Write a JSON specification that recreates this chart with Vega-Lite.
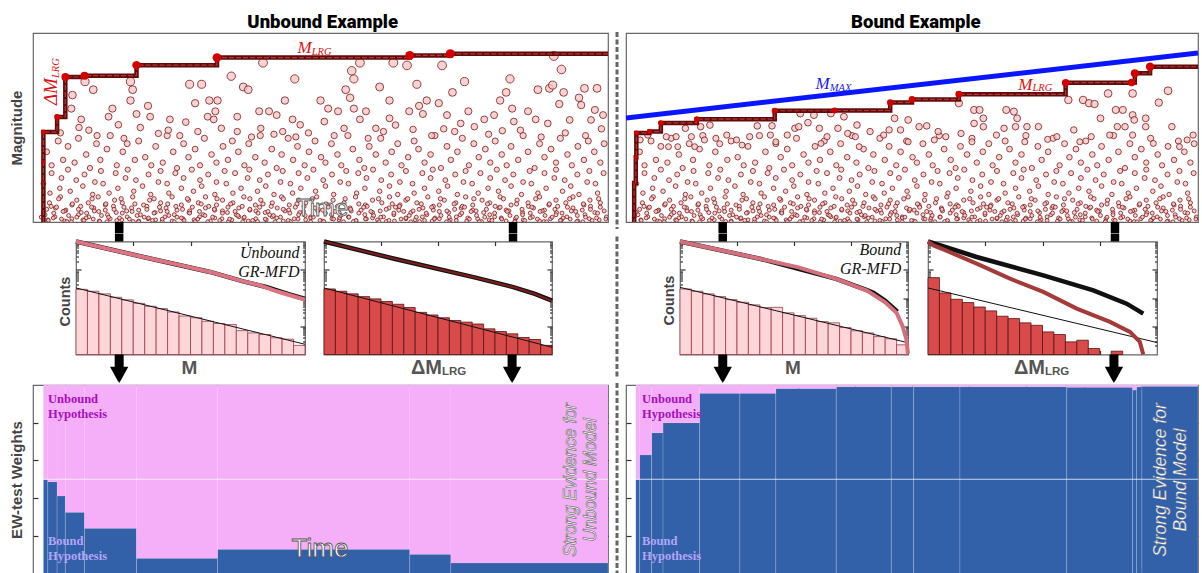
{
"$schema":"https://vega.github.io/schema/vega-lite/v6.json",
"autosize":"none",
"padding":{"left":33,"top":33,"right":1169,"bottom":540},
"background":"white",
"spacing":-2.5,
"config":{"view":{"stroke":"#666","strokeWidth":1.2},"axis":{"labels":false,"domain":false,"grid":false,"tickColor":"#333","tickWidth":1.2,"tickSize":-5}},
"datasets":{
"low":[{"t":2.5,"m":4.6},{"t":3.4,"m":4.1},{"t":4.6,"m":5.0},{"t":5.5,"m":4.3},{"t":6.4,"m":4.8},{"t":7.6,"m":4.2},{"t":8.3,"m":5.1},{"t":9.7,"m":4.5},{"t":10.4,"m":4.0},{"t":11.6,"m":4.9},{"t":12.3,"m":4.3},{"t":13.5,"m":4.7},{"t":14.1,"m":5.2},{"t":15.3,"m":4.1},{"t":16.4,"m":4.6},{"t":17.2,"m":4.9},{"t":18.6,"m":4.3},{"t":19.3,"m":5.0},{"t":20.5,"m":4.4},{"t":21.6,"m":4.1},{"t":22.4,"m":4.8},{"t":23.7,"m":4.2},{"t":24.5,"m":5.2},{"t":25.6,"m":4.6},{"t":26.3,"m":4.0},{"t":27.5,"m":4.9},{"t":28.4,"m":4.4},{"t":29.6,"m":4.7},{"t":30.5,"m":4.1},{"t":31.3,"m":5.1},{"t":32.6,"m":4.5},{"t":33.5,"m":4.2},{"t":34.7,"m":4.8},{"t":35.6,"m":4.3},{"t":36.4,"m":5.0},{"t":37.5,"m":4.6},{"t":38.6,"m":4.1},{"t":39.4,"m":4.9},{"t":40.6,"m":4.4},{"t":41.5,"m":5.2},{"t":42.3,"m":4.2},{"t":43.6,"m":4.7},{"t":44.5,"m":4.0},{"t":45.4,"m":4.5},{"t":46.6,"m":5.1},{"t":47.5,"m":4.3},{"t":48.3,"m":4.8},{"t":49.6,"m":4.1},{"t":50.4,"m":4.6},{"t":51.5,"m":5.0},{"t":52.6,"m":4.4},{"t":53.4,"m":4.2},{"t":54.5,"m":4.9},{"t":55.6,"m":4.5},{"t":56.3,"m":4.1},{"t":57.5,"m":5.2},{"t":58.4,"m":4.7},{"t":59.6,"m":4.3},{"t":60.5,"m":4.0},{"t":61.4,"m":4.8},{"t":62.6,"m":4.5},{"t":63.5,"m":5.1},{"t":64.4,"m":4.2},{"t":65.5,"m":4.6},{"t":66.6,"m":4.9},{"t":67.3,"m":4.1},{"t":68.5,"m":4.4},{"t":69.6,"m":5.0},{"t":70.4,"m":4.7},{"t":71.5,"m":4.2},{"t":72.6,"m":4.5},{"t":73.4,"m":5.2},{"t":74.5,"m":4.0},{"t":75.6,"m":4.8},{"t":76.3,"m":4.3},{"t":77.5,"m":4.6},{"t":78.4,"m":5.1},{"t":79.6,"m":4.1},{"t":80.5,"m":4.9},{"t":81.4,"m":4.4},{"t":82.6,"m":4.7},{"t":83.5,"m":4.2},{"t":84.4,"m":5.0},{"t":85.6,"m":4.5},{"t":86.5,"m":4.1},{"t":87.3,"m":4.8},{"t":88.6,"m":4.3},{"t":89.5,"m":5.2},{"t":90.4,"m":4.6},{"t":91.6,"m":4.0},{"t":92.5,"m":4.9},{"t":93.4,"m":4.4},{"t":94.6,"m":4.7},{"t":95.5,"m":4.2},{"t":96.3,"m":5.1},{"t":97.6,"m":4.5},{"t":98.4,"m":4.1},{"t":99.5,"m":4.8},{"t":100.6,"m":4.3},{"t":101.4,"m":5.0},{"t":102.5,"m":4.6},{"t":103.6,"m":4.2},{"t":104.3,"m":4.9},
{"t":1.9,"m":3.42},{"t":3.1,"m":3.07},{"t":3.4,"m":3.81},{"t":4.9,"m":3.25},{"t":5.2,"m":3.63},{"t":6.4,"m":3.94},{"t":6.8,"m":3.14},{"t":7.9,"m":3.55},{"t":9.1,"m":3.33},{"t":9.4,"m":3.76},{"t":10.9,"m":3.02},{"t":11.3,"m":3.48},{"t":12.4,"m":3.89},{"t":12.8,"m":3.42},{"t":13.9,"m":3.07},{"t":15.1,"m":3.81},{"t":15.5,"m":3.25},{"t":16.9,"m":3.63},{"t":17.3,"m":3.94},{"t":18.4,"m":3.14},{"t":18.8,"m":3.55},{"t":20.0,"m":3.33},{"t":21.1,"m":3.76},{"t":21.5,"m":3.02},{"t":22.9,"m":3.48},{"t":23.3,"m":3.89},{"t":24.5,"m":3.42},{"t":24.8,"m":3.07},{"t":26.0,"m":3.81},{"t":27.1,"m":3.25},{"t":27.5,"m":3.63},{"t":29.0,"m":3.94},{"t":29.3,"m":3.14},{"t":30.5,"m":3.55},{"t":30.8,"m":3.33},{"t":32.0,"m":3.76},{"t":33.2,"m":3.02},{"t":33.5,"m":3.48},{"t":35.0,"m":3.89},{"t":35.3,"m":3.42},{"t":36.5,"m":3.07},{"t":36.9,"m":3.81},{"t":38.0,"m":3.25},{"t":39.2,"m":3.63},{"t":39.5,"m":3.94},{"t":41.0,"m":3.14},{"t":41.4,"m":3.55},{"t":42.5,"m":3.33},{"t":42.9,"m":3.76},{"t":44.0,"m":3.02},{"t":45.2,"m":3.48},{"t":45.6,"m":3.89},{"t":47.0,"m":3.42},{"t":47.4,"m":3.07},{"t":48.5,"m":3.81},{"t":48.9,"m":3.25},{"t":50.1,"m":3.63},{"t":51.2,"m":3.94},{"t":51.6,"m":3.14},{"t":53.0,"m":3.55},{"t":53.4,"m":3.33},{"t":54.6,"m":3.76},{"t":54.9,"m":3.02},{"t":56.1,"m":3.48},{"t":57.2,"m":3.89},{"t":57.6,"m":3.42},{"t":59.1,"m":3.07},{"t":59.4,"m":3.81},{"t":60.6,"m":3.25},{"t":60.9,"m":3.63},{"t":62.1,"m":3.94},{"t":63.3,"m":3.14},{"t":63.6,"m":3.55},{"t":65.1,"m":3.33},{"t":65.4,"m":3.76},{"t":66.6,"m":3.02},{"t":67.0,"m":3.48},{"t":68.1,"m":3.89},{"t":69.3,"m":3.42},{"t":69.6,"m":3.07},{"t":71.1,"m":3.81},{"t":71.5,"m":3.25},{"t":72.6,"m":3.63},{"t":73.0,"m":3.94},{"t":74.1,"m":3.14},{"t":75.3,"m":3.55},{"t":75.7,"m":3.33},{"t":77.1,"m":3.76},{"t":77.5,"m":3.02},{"t":78.6,"m":3.48},{"t":79.0,"m":3.89},{"t":80.2,"m":3.42},{"t":81.3,"m":3.07},{"t":81.7,"m":3.81},{"t":83.1,"m":3.25},{"t":83.5,"m":3.63},{"t":84.7,"m":3.94},{"t":85.0,"m":3.14},{"t":86.2,"m":3.55},{"t":87.3,"m":3.33},{"t":87.7,"m":3.76},{"t":89.2,"m":3.02},{"t":89.5,"m":3.48},{"t":90.7,"m":3.89},{"t":91.0,"m":3.42},{"t":92.2,"m":3.07},{"t":93.4,"m":3.81},{"t":93.7,"m":3.25},{"t":95.2,"m":3.63},{"t":95.5,"m":3.94},{"t":96.7,"m":3.14},{"t":97.1,"m":3.55},{"t":98.2,"m":3.33},{"t":99.4,"m":3.76},{"t":99.7,"m":3.02},{"t":101.2,"m":3.48},{"t":101.6,"m":3.89},{"t":102.7,"m":3.42},{"t":103.1,"m":3.07},{"t":104.2,"m":3.81},
{"t":1.9,"m":2.35},{"t":2.7,"m":2.08},{"t":3.0,"m":2.71},{"t":4.0,"m":2.19},{"t":4.1,"m":2.52},{"t":5.0,"m":2.93},{"t":5.8,"m":2.04},{"t":6.0,"m":2.44},{"t":7.1,"m":2.63},{"t":7.1,"m":2.12},{"t":8.0,"m":2.81},{"t":8.8,"m":2.35},{"t":9.1,"m":2.08},{"t":10.1,"m":2.71},{"t":10.2,"m":2.19},{"t":11.1,"m":2.52},{"t":11.9,"m":2.93},{"t":12.1,"m":2.04},{"t":13.2,"m":2.44},{"t":13.2,"m":2.63},{"t":14.1,"m":2.12},{"t":14.9,"m":2.81},{"t":15.2,"m":2.35},{"t":16.2,"m":2.08},{"t":16.3,"m":2.71},{"t":17.2,"m":2.19},{"t":18.0,"m":2.52},{"t":18.2,"m":2.93},{"t":19.3,"m":2.04},{"t":19.3,"m":2.44},{"t":20.2,"m":2.63},{"t":21.0,"m":2.12},{"t":21.3,"m":2.81},{"t":22.3,"m":2.35},{"t":22.4,"m":2.08},{"t":23.3,"m":2.71},{"t":24.1,"m":2.19},{"t":24.3,"m":2.52},{"t":25.4,"m":2.93},{"t":25.4,"m":2.04},{"t":26.3,"m":2.44},{"t":27.1,"m":2.63},{"t":27.4,"m":2.12},{"t":28.4,"m":2.81},{"t":28.5,"m":2.35},{"t":29.4,"m":2.08},{"t":30.2,"m":2.71},{"t":30.4,"m":2.19},{"t":31.5,"m":2.52},{"t":31.5,"m":2.93},{"t":32.4,"m":2.04},{"t":33.2,"m":2.44},{"t":33.5,"m":2.63},{"t":34.5,"m":2.12},{"t":34.6,"m":2.81},{"t":35.5,"m":2.35},{"t":36.3,"m":2.08},{"t":36.5,"m":2.71},{"t":37.6,"m":2.19},{"t":37.6,"m":2.52},{"t":38.5,"m":2.93},{"t":39.3,"m":2.04},{"t":39.6,"m":2.44},{"t":40.6,"m":2.63},{"t":40.7,"m":2.12},{"t":41.6,"m":2.81},{"t":42.4,"m":2.35},{"t":42.6,"m":2.08},{"t":43.7,"m":2.71},{"t":43.7,"m":2.19},{"t":44.6,"m":2.52},{"t":45.4,"m":2.93},{"t":45.7,"m":2.04},{"t":46.7,"m":2.44},{"t":46.8,"m":2.63},{"t":47.7,"m":2.12},{"t":48.5,"m":2.81},{"t":48.7,"m":2.35},{"t":49.8,"m":2.08},{"t":49.8,"m":2.71},{"t":50.7,"m":2.19},{"t":51.5,"m":2.52},{"t":51.8,"m":2.93},{"t":52.8,"m":2.04},{"t":52.9,"m":2.44},{"t":53.8,"m":2.63},{"t":54.6,"m":2.12},{"t":54.8,"m":2.81},{"t":55.9,"m":2.35},{"t":55.9,"m":2.08},{"t":56.8,"m":2.71},{"t":57.6,"m":2.19},{"t":57.9,"m":2.52},{"t":58.9,"m":2.93},{"t":59.0,"m":2.04},{"t":59.9,"m":2.44},{"t":60.7,"m":2.63},{"t":60.9,"m":2.12},{"t":62.0,"m":2.81},{"t":62.0,"m":2.35},{"t":62.9,"m":2.08},{"t":63.7,"m":2.71},{"t":64.0,"m":2.19},{"t":65.0,"m":2.52},{"t":65.1,"m":2.93},{"t":66.0,"m":2.04},{"t":66.8,"m":2.44},{"t":67.0,"m":2.63},{"t":68.1,"m":2.12},{"t":68.1,"m":2.81},{"t":69.0,"m":2.35},{"t":69.8,"m":2.08},{"t":70.1,"m":2.71},{"t":71.1,"m":2.19},{"t":71.2,"m":2.52},{"t":72.1,"m":2.93},{"t":72.9,"m":2.04},{"t":73.1,"m":2.44},{"t":74.2,"m":2.63},{"t":74.2,"m":2.12},{"t":75.1,"m":2.81},{"t":75.9,"m":2.35},{"t":76.2,"m":2.08},{"t":77.2,"m":2.71},{"t":77.3,"m":2.19},{"t":78.2,"m":2.52},{"t":79.0,"m":2.93},{"t":79.2,"m":2.04},{"t":80.3,"m":2.44},{"t":80.3,"m":2.63},{"t":81.2,"m":2.12},{"t":82.0,"m":2.81},{"t":82.3,"m":2.35},{"t":83.3,"m":2.08},{"t":83.4,"m":2.71},{"t":84.3,"m":2.19},{"t":85.1,"m":2.52},{"t":85.3,"m":2.93},{"t":86.4,"m":2.04},{"t":86.4,"m":2.44},{"t":87.3,"m":2.63},{"t":88.1,"m":2.12},{"t":88.4,"m":2.81},{"t":89.4,"m":2.35},{"t":89.5,"m":2.08},{"t":90.4,"m":2.71},{"t":91.2,"m":2.19},{"t":91.4,"m":2.52},{"t":92.5,"m":2.93},{"t":92.5,"m":2.04},{"t":93.4,"m":2.44},{"t":94.2,"m":2.63},{"t":94.5,"m":2.12},{"t":95.5,"m":2.81},{"t":95.6,"m":2.35},{"t":96.5,"m":2.08},{"t":97.3,"m":2.71},{"t":97.5,"m":2.19},{"t":98.6,"m":2.52},{"t":98.6,"m":2.93},{"t":99.5,"m":2.04},{"t":100.3,"m":2.44},{"t":100.6,"m":2.63},{"t":101.6,"m":2.12},{"t":101.7,"m":2.81},{"t":102.6,"m":2.35},{"t":103.4,"m":2.08},{"t":103.6,"m":2.71},{"t":104.7,"m":2.19},
{"t":2.2,"m":2.27},{"t":3.3,"m":2.58},{"t":3.7,"m":2.15},{"t":4.7,"m":2.86},{"t":5.8,"m":2.41},{"t":6.2,"m":2.02},{"t":7.2,"m":2.67},{"t":8.3,"m":2.27},{"t":8.7,"m":2.58},{"t":9.7,"m":2.15},{"t":10.8,"m":2.86},{"t":11.2,"m":2.41},{"t":12.2,"m":2.02},{"t":13.3,"m":2.67},{"t":13.6,"m":2.27},{"t":14.7,"m":2.58},{"t":15.8,"m":2.15},{"t":16.1,"m":2.86},{"t":17.1,"m":2.41},{"t":18.3,"m":2.02},{"t":18.6,"m":2.67},{"t":19.6,"m":2.27},{"t":20.8,"m":2.58},{"t":21.1,"m":2.15},{"t":22.1,"m":2.86},{"t":23.3,"m":2.41},{"t":23.6,"m":2.02},{"t":24.6,"m":2.67},{"t":25.8,"m":2.27},{"t":26.1,"m":2.58},{"t":27.1,"m":2.15},{"t":28.2,"m":2.86},{"t":28.6,"m":2.41},{"t":29.6,"m":2.02},{"t":30.7,"m":2.67},{"t":31.1,"m":2.27},{"t":32.1,"m":2.58},{"t":33.2,"m":2.15},{"t":33.6,"m":2.86},{"t":34.6,"m":2.41},{"t":35.7,"m":2.02},{"t":36.1,"m":2.67},{"t":37.1,"m":2.27},{"t":38.2,"m":2.58},{"t":38.5,"m":2.15},{"t":39.6,"m":2.86},{"t":40.7,"m":2.41},{"t":41.0,"m":2.02},{"t":42.0,"m":2.67},{"t":43.2,"m":2.27},{"t":43.5,"m":2.58},{"t":44.5,"m":2.15},{"t":45.7,"m":2.86},{"t":46.0,"m":2.41},{"t":47.0,"m":2.02},{"t":48.2,"m":2.67},{"t":48.5,"m":2.27},{"t":49.5,"m":2.58},{"t":50.7,"m":2.15},{"t":51.0,"m":2.86},{"t":52.0,"m":2.41},{"t":53.1,"m":2.02},{"t":53.5,"m":2.67},{"t":54.5,"m":2.27},{"t":55.6,"m":2.58},{"t":56.0,"m":2.15},{"t":57.0,"m":2.86},{"t":58.1,"m":2.41},{"t":58.5,"m":2.02},{"t":59.5,"m":2.67},{"t":60.6,"m":2.27},{"t":61.0,"m":2.58},{"t":62.0,"m":2.15},{"t":63.1,"m":2.86},{"t":63.4,"m":2.41},{"t":64.5,"m":2.02},{"t":65.6,"m":2.67},{"t":65.9,"m":2.27},{"t":66.9,"m":2.58},{"t":68.1,"m":2.15},{"t":68.4,"m":2.86},{"t":69.4,"m":2.41},{"t":70.6,"m":2.02},{"t":70.9,"m":2.67},{"t":71.9,"m":2.27},{"t":73.1,"m":2.58},{"t":73.4,"m":2.15},{"t":74.4,"m":2.86},{"t":75.6,"m":2.41},{"t":75.9,"m":2.02},{"t":76.9,"m":2.67},{"t":78.0,"m":2.27},{"t":78.4,"m":2.58},{"t":79.4,"m":2.15},{"t":80.5,"m":2.86},{"t":80.9,"m":2.41},{"t":81.9,"m":2.02},{"t":83.0,"m":2.67},{"t":83.4,"m":2.27},{"t":84.4,"m":2.58},{"t":85.5,"m":2.15},{"t":85.9,"m":2.86},{"t":86.9,"m":2.41},{"t":88.0,"m":2.02},{"t":88.3,"m":2.67},{"t":89.4,"m":2.27},{"t":90.5,"m":2.58},{"t":90.8,"m":2.15},{"t":91.8,"m":2.86},{"t":93.0,"m":2.41},{"t":93.3,"m":2.02},{"t":94.3,"m":2.67},{"t":95.5,"m":2.27},{"t":95.8,"m":2.58},{"t":96.8,"m":2.15},{"t":98.0,"m":2.86},{"t":98.3,"m":2.41},{"t":99.3,"m":2.02},{"t":100.5,"m":2.67},{"t":100.8,"m":2.27},{"t":101.8,"m":2.58},{"t":102.9,"m":2.15},{"t":103.3,"m":2.86},{"t":104.3,"m":2.41},
{"t":1.5,"m":2.18},{"t":2.5,"m":2.47},{"t":2.8,"m":2.06},{"t":3.8,"m":2.33},{"t":4.3,"m":2.55},{"t":5.2,"m":2.11},{"t":5.5,"m":2.39},{"t":6.5,"m":2.24},{"t":7.0,"m":2.01},{"t":8.0,"m":2.18},{"t":8.3,"m":2.47},{"t":9.3,"m":2.06},{"t":9.8,"m":2.33},{"t":10.7,"m":2.55},{"t":11.0,"m":2.11},{"t":12.0,"m":2.39},{"t":12.5,"m":2.24},{"t":13.5,"m":2.01},{"t":13.8,"m":2.18},{"t":14.8,"m":2.47},{"t":15.3,"m":2.06},{"t":16.3,"m":2.33},{"t":16.6,"m":2.55},{"t":17.6,"m":2.11},{"t":18.1,"m":2.39},{"t":19.0,"m":2.24},{"t":19.3,"m":2.01},{"t":20.3,"m":2.18},{"t":20.8,"m":2.47},{"t":21.8,"m":2.06},{"t":22.1,"m":2.33},{"t":23.1,"m":2.55},{"t":23.6,"m":2.11},{"t":24.5,"m":2.39},{"t":24.8,"m":2.24},{"t":25.8,"m":2.01},{"t":26.3,"m":2.18},{"t":27.3,"m":2.47},{"t":27.6,"m":2.06},{"t":28.6,"m":2.33},{"t":29.1,"m":2.55},{"t":30.1,"m":2.11},{"t":30.4,"m":2.39},{"t":31.4,"m":2.24},{"t":31.9,"m":2.01},{"t":32.8,"m":2.18},{"t":33.1,"m":2.47},{"t":34.1,"m":2.06},{"t":34.6,"m":2.33},{"t":35.6,"m":2.55},{"t":35.9,"m":2.11},{"t":36.9,"m":2.39},{"t":37.4,"m":2.24},{"t":38.3,"m":2.01},{"t":38.6,"m":2.18},{"t":39.6,"m":2.47},{"t":40.1,"m":2.06},{"t":41.1,"m":2.33},{"t":41.4,"m":2.55},{"t":42.4,"m":2.11},{"t":42.9,"m":2.39},{"t":43.9,"m":2.24},{"t":44.2,"m":2.01},{"t":45.2,"m":2.18},{"t":45.7,"m":2.47},{"t":46.6,"m":2.06},{"t":46.9,"m":2.33},{"t":47.9,"m":2.55},{"t":48.4,"m":2.11},{"t":49.4,"m":2.39},{"t":49.7,"m":2.24},{"t":50.7,"m":2.01},{"t":51.2,"m":2.18},{"t":52.1,"m":2.47},{"t":52.4,"m":2.06},{"t":53.4,"m":2.33},{"t":53.9,"m":2.55},{"t":54.9,"m":2.11},{"t":55.2,"m":2.39},{"t":56.2,"m":2.24},{"t":56.7,"m":2.01},{"t":57.7,"m":2.18},{"t":58.0,"m":2.47},{"t":59.0,"m":2.06},{"t":59.5,"m":2.33},{"t":60.4,"m":2.55},{"t":60.7,"m":2.11},{"t":61.7,"m":2.39},{"t":62.2,"m":2.24},{"t":63.2,"m":2.01},{"t":63.5,"m":2.18},{"t":64.5,"m":2.47},{"t":65.0,"m":2.06},{"t":65.9,"m":2.33},{"t":66.2,"m":2.55},{"t":67.2,"m":2.11},{"t":67.7,"m":2.39},{"t":68.7,"m":2.24},{"t":69.0,"m":2.01},{"t":70.0,"m":2.18},{"t":70.5,"m":2.47},{"t":71.5,"m":2.06},{"t":71.8,"m":2.33},{"t":72.8,"m":2.55},{"t":73.3,"m":2.11},{"t":74.2,"m":2.39},{"t":74.5,"m":2.24},{"t":75.5,"m":2.01},{"t":76.0,"m":2.18},{"t":77.0,"m":2.47},{"t":77.3,"m":2.06},{"t":78.3,"m":2.33},{"t":78.8,"m":2.55},{"t":79.7,"m":2.11},{"t":80.0,"m":2.39},{"t":81.0,"m":2.24},{"t":81.5,"m":2.01},{"t":82.5,"m":2.18},{"t":82.8,"m":2.47},{"t":83.8,"m":2.06},{"t":84.3,"m":2.33},{"t":85.3,"m":2.55},{"t":85.6,"m":2.11},{"t":86.6,"m":2.39},{"t":87.1,"m":2.24},{"t":88.0,"m":2.01},{"t":88.3,"m":2.18},{"t":89.3,"m":2.47},{"t":89.8,"m":2.06},{"t":90.8,"m":2.33},{"t":91.1,"m":2.55},{"t":92.1,"m":2.11},{"t":92.6,"m":2.39},{"t":93.5,"m":2.24},{"t":93.8,"m":2.01},{"t":94.8,"m":2.18},{"t":95.3,"m":2.47},{"t":96.3,"m":2.06},{"t":96.6,"m":2.33},{"t":97.6,"m":2.55},{"t":98.1,"m":2.11},{"t":99.1,"m":2.39},{"t":99.4,"m":2.24},{"t":100.4,"m":2.01},{"t":100.9,"m":2.18},{"t":101.8,"m":2.47},{"t":102.1,"m":2.06},{"t":103.1,"m":2.33},{"t":103.6,"m":2.55},{"t":104.6,"m":2.11}],
"hiL":[{"t":9.5,"m":7.2},{"t":11.0,"m":6.9},{"t":7.2,"m":6.7},{"t":7.0,"m":6.2},{"t":8.8,"m":5.8},{"t":8.4,"m":5.5},{"t":11.7,"m":5.2},{"t":14.5,"m":6.2},{"t":15.6,"m":5.6},{"t":17.8,"m":7.2},{"t":18.2,"m":6.9},{"t":17.8,"m":6.5},{"t":18.9,"m":6.0},{"t":21.0,"m":6.3},{"t":21.4,"m":5.9},{"t":19.6,"m":5.5},{"t":25.0,"m":5.8},{"t":24.7,"m":5.4},{"t":28.6,"m":7.1},{"t":30.8,"m":7.1},{"t":29.6,"m":6.4},{"t":32.2,"m":6.5},{"t":33.7,"m":6.5},{"t":33.3,"m":6.1},{"t":31.9,"m":5.9},{"t":33.0,"m":5.8},{"t":27.9,"m":5.7},{"t":36.2,"m":7.4},{"t":38.4,"m":7.0},{"t":39.3,"m":6.9},{"t":41.3,"m":6.1},{"t":43.1,"m":6.1},{"t":37.3,"m":5.9},{"t":42.0,"m":7.9},{"t":47.8,"m":7.3},{"t":46.0,"m":6.5},{"t":44.5,"m":5.96},{"t":47.4,"m":5.8},{"t":48.8,"m":5.6},{"t":52.5,"m":6.5},{"t":53.9,"m":6.2},{"t":55.7,"m":6.1},{"t":57.1,"m":6.9},{"t":57.9,"m":6.6},{"t":58.6,"m":7.3},{"t":58.2,"m":7.6},{"t":59.7,"m":7.9},{"t":58.6,"m":6.2},{"t":59.7,"m":5.8},{"t":60.8,"m":6.1},{"t":63.3,"m":7.0},{"t":65.1,"m":6.5},{"t":65.8,"m":7.9},{"t":68.3,"m":7.8},{"t":70.1,"m":7.1},{"t":70.5,"m":6.3},{"t":68.7,"m":6.1},{"t":71.2,"m":6.0},{"t":71.9,"m":6.5},{"t":74.1,"m":6.4},{"t":74.7,"m":7.8},{"t":76.6,"m":6.8},{"t":75.6,"m":5.96},{"t":78.8,"m":7.2},{"t":79.5,"m":6.1},{"t":82.4,"m":5.8},{"t":84.2,"m":5.96},{"t":85.3,"m":6.5},{"t":86.4,"m":6.8},{"t":87.1,"m":7.3},{"t":87.5,"m":6.2},{"t":90.4,"m":6.1},{"t":92.2,"m":6.9},{"t":91.8,"m":5.8},{"t":94.3,"m":6.95},{"t":95.1,"m":8.15},{"t":94.9,"m":7.07},{"t":96.5,"m":7.65},{"t":96.9,"m":6.8},{"t":96.1,"m":6.37},{"t":99.7,"m":6.6},{"t":100.7,"m":6.95},{"t":100.1,"m":6.33},{"t":103.0,"m":6.95},{"t":102.6,"m":6.15},{"t":104.1,"m":5.96},{"t":101.9,"m":5.78},{"t":98.0,"m":5.78},{"t":94.0,"m":5.65},{"t":87.8,"m":5.72},{"t":80.6,"m":5.53},{"t":78.1,"m":5.65},{"t":66.2,"m":5.59},{"t":65.1,"m":5.84},{"t":62.6,"m":5.47},{"t":53.2,"m":5.72},{"t":56.8,"m":5.47},{"t":41.6,"m":5.47},{"t":37.3,"m":5.35},{"t":22.9,"m":5.28},{"t":13.8,"m":5.9},{"t":34.4,"m":5.47},{"t":45.6,"m":5.35},{"t":69.4,"m":5.43},{"t":85.7,"m":5.38},{"t":77.0,"m":5.35},{"t":5.0,"m":5.3},{"t":10.2,"m":5.4},{"t":16.6,"m":5.1},{"t":26.8,"m":5.2},{"t":30.1,"m":5.35},{"t":39.9,"m":5.15},{"t":44.0,"m":5.25},{"t":50.3,"m":5.3},{"t":55.0,"m":5.2},{"t":61.2,"m":5.1},{"t":64.0,"m":5.35},{"t":72.8,"m":5.2},{"t":75.0,"m":5.45},{"t":83.2,"m":5.25},{"t":89.0,"m":5.4},{"t":92.8,"m":5.15},{"t":97.2,"m":5.3},{"t":100.9,"m":5.2},{"t":103.8,"m":5.45},{"t":48.0,"m":5.15}],
"hiR":[{"t":2.6,"m":5.04},{"t":4.0,"m":5.22},{"t":7.4,"m":5.16},{"t":7.8,"m":4.79},{"t":9.2,"m":5.16},{"t":9.5,"m":4.79},{"t":10.9,"m":5.47},{"t":12.0,"m":5.16},{"t":13.7,"m":5.53},{"t":15.4,"m":5.59},{"t":14.4,"m":5.04},{"t":16.5,"m":5.1},{"t":18.5,"m":5.22},{"t":20.3,"m":5.04},{"t":22.7,"m":5.16},{"t":24.1,"m":5.56},{"t":26.8,"m":5.56},{"t":26.5,"m":5.22},{"t":29.6,"m":5.22},{"t":31.0,"m":5.47},{"t":31.7,"m":5.53},{"t":32.0,"m":6.02},{"t":33.4,"m":5.68},{"t":34.5,"m":5.96},{"t":35.5,"m":5.47},{"t":36.9,"m":5.16},{"t":37.6,"m":6.02},{"t":38.9,"m":5.47},{"t":40.0,"m":5.9},{"t":40.7,"m":5.28},{"t":42.4,"m":5.59},{"t":42.1,"m":5.16},{"t":44.8,"m":5.35},{"t":47.3,"m":5.22},{"t":48.3,"m":5.41},{"t":50.4,"m":5.41},{"t":49.3,"m":5.84},{"t":51.8,"m":5.78},{"t":53.8,"m":5.53},{"t":55.2,"m":5.56},{"t":57.3,"m":5.35},{"t":58.7,"m":5.16},{"t":61.1,"m":6.4},{"t":61.5,"m":5.28},{"t":63.9,"m":6.15},{"t":64.9,"m":6.15},{"t":63.9,"m":5.65},{"t":65.6,"m":5.84},{"t":65.6,"m":5.53},{"t":69.4,"m":5.47},{"t":69.8,"m":6.15},{"t":71.2,"m":6.09},{"t":71.8,"m":5.84},{"t":71.5,"m":5.53},{"t":73.6,"m":5.53},{"t":75.7,"m":5.53},{"t":68.0,"m":5.22},{"t":79.1,"m":5.16},{"t":81.2,"m":6.52},{"t":82.2,"m":5.41},{"t":83.9,"m":6.52},{"t":85.0,"m":6.4},{"t":86.0,"m":6.37},{"t":85.4,"m":5.16},{"t":87.1,"m":5.84},{"t":88.5,"m":6.76},{"t":89.9,"m":6.15},{"t":91.2,"m":6.15},{"t":90.2,"m":5.53},{"t":91.6,"m":5.53},{"t":93.0,"m":6.76},{"t":93.0,"m":5.96},{"t":93.3,"m":5.78},{"t":93.0,"m":5.22},{"t":95.4,"m":5.84},{"t":95.4,"m":5.53},{"t":97.8,"m":6.42},{"t":99.5,"m":6.86},{"t":100.2,"m":5.53},{"t":103.0,"m":5.04},{"t":104.1,"m":5.22},{"t":101.6,"m":4.79},{"t":96.8,"m":4.91},{"t":88.8,"m":5.22},{"t":83.3,"m":4.97},{"t":77.4,"m":5.06},{"t":73.2,"m":4.97},{"t":63.5,"m":4.97},{"t":56.6,"m":5.04},{"t":51.8,"m":4.97},{"t":42.8,"m":4.79},{"t":35.8,"m":4.91},{"t":27.5,"m":4.97},{"t":21.3,"m":4.85},{"t":12.6,"m":4.79}],
"lrgL":[{"t":1.9,"m":2},{"t":1.9,"m":5.33},{"t":4.4,"m":5.89},{"t":5.9,"m":7.37},{"t":9.4,"m":7.42},{"t":18.9,"m":7.81},{"t":33.6,"m":8.09},{"t":68.8,"m":8.17},{"t":76.2,"m":8.23},{"t":105,"m":8.23}],
"recL":[{"t":1.9,"m":3.49},{"t":1.9,"m":4.23},{"t":1.9,"m":5.33},{"t":4.4,"m":5.89},{"t":5.9,"m":7.37},{"t":9.4,"m":7.42},{"t":18.9,"m":7.81},{"t":33.6,"m":8.09},{"t":68.8,"m":8.17},{"t":76.2,"m":8.23}],
"lrgR":[{"t":1.2,"m":2},{"t":1.5,"m":3.44},{"t":1.8,"m":4.4},{"t":1.9,"m":5.3},{"t":4.3,"m":5.35},{"t":6.4,"m":5.67},{"t":13.0,"m":5.81},{"t":27.3,"m":6.12},{"t":38.3,"m":6.13},{"t":48.5,"m":6.43},{"t":52.5,"m":6.54},{"t":61.1,"m":6.73},{"t":80.7,"m":7.16},{"t":92.8,"m":7.17},{"t":93.4,"m":7.51},{"t":96.2,"m":7.75},{"t":105,"m":7.75}],
"recR":[{"t":1.5,"m":3.44},{"t":1.8,"m":4.4},{"t":1.9,"m":5.3},{"t":4.3,"m":5.35},{"t":6.4,"m":5.67},{"t":13.0,"m":5.81},{"t":27.3,"m":6.12},{"t":38.3,"m":6.13},{"t":48.5,"m":6.43},{"t":52.5,"m":6.54},{"t":61.1,"m":6.73},{"t":80.7,"m":7.16},{"t":92.8,"m":7.17},{"t":93.4,"m":7.51},{"t":96.2,"m":7.75}],
"ewL":[{"t0":1.9,"t1":2.7,"w":0.5},{"t0":2.7,"t1":4.4,"w":0.487},{"t0":4.4,"t1":5.9,"w":0.411},{"t0":5.9,"t1":9.4,"w":0.325},{"t0":9.4,"t1":18.9,"w":0.24},{"t0":18.9,"t1":33.7,"w":0.081},{"t0":33.7,"t1":68.8,"w":0.128},{"t0":68.8,"t1":76.3,"w":0.102},{"t0":76.3,"t1":105,"w":0.056}],
"ewR":[{"t0":1.8,"t1":2.5,"w":0.5},{"t0":2.5,"t1":4.7,"w":0.629},{"t0":4.7,"t1":6.8,"w":0.747},{"t0":6.8,"t1":13.5,"w":0.8},{"t0":13.5,"t1":20.9,"w":0.956},{"t0":20.9,"t1":27.5,"w":0.956},{"t0":27.5,"t1":38.6,"w":0.982},{"t0":38.6,"t1":48.7,"w":0.991},{"t0":48.7,"t1":52.8,"w":0.991},{"t0":52.8,"t1":61.3,"w":0.991},{"t0":61.3,"t1":80.9,"w":0.991},{"t0":80.9,"t1":93.0,"w":0.988},{"t0":93.0,"t1":93.7,"w":0.973},{"t0":93.7,"t1":94.7,"w":0.99},{"t0":94.7,"t1":105,"w":0.993}]
},
"vconcat":[
{"hconcat":[
{"width":575,"height":189,"resolve":{"scale":{"size":"independent"}},"layer":[
 {"data":{"name":"low"},"mark":{"type":"point","shape":"circle","filled":true,"fill":"#f6c8c8","fillOpacity":0.8,"stroke":"#7e1616","strokeWidth":0.8,"opacity":1,"clip":true},
  "encoding":{"x":{"field":"t","type":"quantitative","scale":{"domain":[0,105],"nice":false,"zero":false},"axis":{"orient":"bottom","values":[5,15,25,35,45,55,65,75,85,95],"title":null}},
   "y":{"field":"m","type":"quantitative","scale":{"domain":[2,9],"nice":false,"zero":false},"axis":{"orient":"left","values":[3,4,5,6,7,8],"title":null}},
   "size":{"field":"m","type":"quantitative","scale":{"type":"pow","exponent":2,"domain":[2,8],"range":[14,80],"clamp":true},"legend":null}}},
 {"data":{"name":"hiL"},"mark":{"type":"point","shape":"circle","filled":true,"fill":"#f6c8c8","fillOpacity":0.8,"stroke":"#7e1616","strokeWidth":0.8,"opacity":1,"clip":true},
  "encoding":{"x":{"field":"t","type":"quantitative","axis":null},"y":{"field":"m","type":"quantitative","axis":null},
   "size":{"field":"m","type":"quantitative","scale":{"type":"pow","exponent":2,"domain":[2,8],"range":[14,80],"clamp":true},"legend":null}}},
 {"data":{"name":"lrgL"},"mark":{"type":"line","interpolate":"step-after","color":"#650a0a","strokeWidth":4.5,"clip":true},"encoding":{"x":{"field":"t","type":"quantitative","axis":null},"y":{"field":"m","type":"quantitative","axis":null}}},
 {"data":{"name":"lrgL"},"mark":{"type":"line","interpolate":"step-after","color":"#a83a3a","strokeWidth":1.2,"strokeDash":[5,2],"clip":true},"encoding":{"x":{"field":"t","type":"quantitative","axis":null},"y":{"field":"m","type":"quantitative","axis":null}}},
 {"data":{"name":"recL"},"mark":{"type":"point","shape":"circle","filled":true,"color":"#d40000","opacity":1},"encoding":{"x":{"field":"t","type":"quantitative","axis":null},"y":{"field":"m","type":"quantitative","axis":null},"size":{"field":"m","type":"quantitative","scale":{"type":"pow","exponent":3,"domain":[2,8.3],"range":[5,85]},"legend":null}}},
 {"data":{"values":[{}]},"mark":{"type":"rect","color":"#000"},"encoding":{"x":{"datum":14.96,"axis":null},"x2":{"datum":16.52},"y":{"datum":2,"axis":null},"y2":{"datum":1.593}}},
 {"data":{"values":[{}]},"mark":{"type":"rect","color":"#000"},"encoding":{"x":{"datum":86.88,"axis":null},"x2":{"datum":88.43},"y":{"datum":2,"axis":null},"y2":{"datum":1.593}}},
 {"data":{"values":[{}]},"mark":{"type":"text","text":"Unbound Example","font":"Roboto","fontWeight":900,"fontSize":18.5,"color":"#000","align":"center","baseline":"alphabetic"},"encoding":{"x":{"datum":52.9,"axis":null},"y":{"datum":9.17,"axis":null}}},
 {"data":{"values":[{}]},"mark":{"type":"text","text":"Magnitude","font":"Liberation Sans","fontWeight":"bold","fontSize":15,"color":"#444","align":"center","baseline":"bottom","angle":270},"encoding":{"x":{"datum":-1.46,"axis":null},"y":{"datum":5.48,"axis":null}}},
 {"data":{"values":[{}]},"mark":{"type":"text","text":"Time","font":"Liberation Sans","fontSize":24,"fill":"#ffffff","stroke":"#555","strokeWidth":0.8,"align":"center","baseline":"alphabetic"},"encoding":{"x":{"datum":52.8,"axis":null},"y":{"datum":2.22,"axis":null}}},
 {"data":{"values":[{}]},"mark":{"type":"text","text":"M","font":"Liberation Serif","fontStyle":"italic","fontSize":17,"color":"#dd1111","align":"right","baseline":"alphabetic"},"encoding":{"x":{"datum":50.9,"axis":null},"y":{"datum":8.26,"axis":null}}},
 {"data":{"values":[{}]},"mark":{"type":"text","text":"LRG","font":"Liberation Serif","fontStyle":"italic","fontSize":10.5,"color":"#dd1111","align":"left","baseline":"alphabetic"},"encoding":{"x":{"datum":50.9,"axis":null},"y":{"datum":8.19,"axis":null}}},
 {"data":{"values":[{}]},"mark":{"type":"text","text":"ΔM","font":"Liberation Serif","fontStyle":"italic","fontSize":19,"color":"#dd1111","align":"right","baseline":"alphabetic","angle":270},"encoding":{"x":{"datum":4.38,"axis":null},"y":{"datum":7.33,"axis":null}}},
 {"data":{"values":[{}]},"mark":{"type":"text","text":"LRG","font":"Liberation Serif","fontStyle":"italic","fontSize":10.5,"color":"#dd1111","align":"left","baseline":"alphabetic","angle":270},"encoding":{"x":{"datum":4.66,"axis":null},"y":{"datum":7.33,"axis":null}}}
]},
{"width":572,"height":189,"resolve":{"scale":{"size":"independent"}},"layer":[
 {"data":{"name":"low"},"mark":{"type":"point","shape":"circle","filled":true,"fill":"#f6c8c8","fillOpacity":0.8,"stroke":"#7e1616","strokeWidth":0.8,"opacity":1,"clip":true},
  "encoding":{"x":{"field":"t","type":"quantitative","scale":{"domain":[0,105],"nice":false,"zero":false},"axis":{"orient":"bottom","values":[5,15,25,35,45,55,65,75,85,95],"title":null}},
   "y":{"field":"m","type":"quantitative","scale":{"domain":[2,9],"nice":false,"zero":false},"axis":{"orient":"left","values":[3,4,5,6,7,8],"title":null}},
   "size":{"field":"m","type":"quantitative","scale":{"type":"pow","exponent":2,"domain":[2,8],"range":[14,80],"clamp":true},"legend":null}}},
 {"data":{"name":"hiR"},"mark":{"type":"point","shape":"circle","filled":true,"fill":"#f6c8c8","fillOpacity":0.8,"stroke":"#7e1616","strokeWidth":0.8,"opacity":1,"clip":true},
  "encoding":{"x":{"field":"t","type":"quantitative","axis":null},"y":{"field":"m","type":"quantitative","axis":null},
   "size":{"field":"m","type":"quantitative","scale":{"type":"pow","exponent":2,"domain":[2,8],"range":[14,80],"clamp":true},"legend":null}}},
 {"data":{"values":[{"t":0,"m":5.85},{"t":105,"m":8.26}]},"mark":{"type":"line","color":"#0a16ff","strokeWidth":5,"clip":true},"encoding":{"x":{"field":"t","type":"quantitative","axis":null},"y":{"field":"m","type":"quantitative","axis":null}}},
 {"data":{"name":"lrgR"},"mark":{"type":"line","interpolate":"step-after","color":"#650a0a","strokeWidth":4.5,"clip":true},"encoding":{"x":{"field":"t","type":"quantitative","axis":null},"y":{"field":"m","type":"quantitative","axis":null}}},
 {"data":{"name":"lrgR"},"mark":{"type":"line","interpolate":"step-after","color":"#a83a3a","strokeWidth":1.2,"strokeDash":[5,2],"clip":true},"encoding":{"x":{"field":"t","type":"quantitative","axis":null},"y":{"field":"m","type":"quantitative","axis":null}}},
 {"data":{"name":"recR"},"mark":{"type":"point","shape":"circle","filled":true,"color":"#d40000","opacity":1},"encoding":{"x":{"field":"t","type":"quantitative","axis":null},"y":{"field":"m","type":"quantitative","axis":null},"size":{"field":"m","type":"quantitative","scale":{"type":"pow","exponent":3,"domain":[2,8.3],"range":[5,85]},"legend":null}}},
 {"data":{"values":[{}]},"mark":{"type":"rect","color":"#000"},"encoding":{"x":{"datum":16.97,"axis":null},"x2":{"datum":18.53},"y":{"datum":2,"axis":null},"y2":{"datum":1.593}}},
 {"data":{"values":[{}]},"mark":{"type":"rect","color":"#000"},"encoding":{"x":{"datum":88.98,"axis":null},"x2":{"datum":90.54},"y":{"datum":2,"axis":null},"y2":{"datum":1.593}}},
 {"data":{"values":[{}]},"mark":{"type":"text","text":"Bound Example","font":"Roboto","fontWeight":900,"fontSize":18.5,"color":"#000","align":"center","baseline":"alphabetic"},"encoding":{"x":{"datum":53.2,"axis":null},"y":{"datum":9.17,"axis":null}}},
 {"data":{"values":[{}]},"mark":{"type":"text","text":"M","font":"Liberation Serif","fontStyle":"italic","fontSize":17,"color":"#1a1aff","align":"right","baseline":"alphabetic"},"encoding":{"x":{"datum":37.4,"axis":null},"y":{"datum":6.91,"axis":null}}},
 {"data":{"values":[{}]},"mark":{"type":"text","text":"MAX","font":"Liberation Serif","fontStyle":"italic","fontSize":10.5,"color":"#1a1aff","align":"left","baseline":"alphabetic"},"encoding":{"x":{"datum":37.4,"axis":null},"y":{"datum":6.86,"axis":null}}},
 {"data":{"values":[{}]},"mark":{"type":"text","text":"M","font":"Liberation Serif","fontStyle":"italic","fontSize":17,"color":"#dd1111","align":"right","baseline":"alphabetic"},"encoding":{"x":{"datum":74.6,"axis":null},"y":{"datum":6.89,"axis":null}}},
 {"data":{"values":[{}]},"mark":{"type":"text","text":"LRG","font":"Liberation Serif","fontStyle":"italic","fontSize":10.5,"color":"#dd1111","align":"left","baseline":"alphabetic"},"encoding":{"x":{"datum":74.6,"axis":null},"y":{"datum":6.84,"axis":null}}},
 {"data":{"values":[{}]},"mark":{"type":"rule","color":"#666","strokeWidth":3,"strokeDash":[5,2.5]},"encoding":{"x":{"datum":-1.65,"axis":null},"y":{"datum":9.04,"axis":null},"y2":{"datum":1.741}}}
]}
],"spacing":18,"bounds":"flush"},
{"hconcat":[
{"width":43,"height":0,"view":{"stroke":null},"data":{"values":[{}]},"mark":{"type":"point","opacity":0},"encoding":{}},
{"width":229,"height":113,"resolve":{"axis":{"x":"independent","y":"independent"}},"layer":[
 {"data":{"values":[{"b0":0,"b1":1,"n":203},{"b0":1,"b1":2,"n":173},{"b0":2,"b1":3,"n":140},{"b0":3,"b1":4,"n":106},{"b0":4,"b1":5,"n":86},{"b0":5,"b1":6,"n":65},{"b0":6,"b1":7,"n":51},{"b0":7,"b1":8,"n":42},{"b0":8,"b1":9,"n":32},{"b0":9,"b1":10,"n":23},{"b0":10,"b1":11,"n":20},{"b0":11,"b1":12,"n":15},{"b0":12,"b1":13,"n":12.5},{"b0":13,"b1":14,"n":11.5},{"b0":14,"b1":15,"n":7},{"b0":15,"b1":16,"n":5.8},{"b0":16,"b1":17,"n":5.1},{"b0":17,"b1":18,"n":3.9},{"b0":18,"b1":19,"n":3.5},{"b0":19,"b1":20,"n":2.1}]},
  "mark":{"type":"rect","fill":"#fdd6da","stroke":"#9b3b48","strokeWidth":0.8},
  "encoding":{"x":{"field":"b0","type":"quantitative","scale":{"domain":[0,20],"nice":false,"zero":false},"axis":{"orient":"bottom","values":[5,10,15],"title":null,"tickSize":-4}},"x2":{"field":"b1"},
   "y":{"field":"n","type":"quantitative","scale":{"type":"log","domain":[1,10000],"nice":false},"axis":{"orient":"left","values":[2,3,4,5,6,7,8,9,10,20,30,40,50,60,70,80,90,100,200,300,400,500,600,700,800,900,1000,2000,3000,4000,5000,6000,7000,8000,9000],"title":null,"tickSize":{"condition":{"test":"datum.value===10||datum.value===100||datum.value===1000","value":-5},"value":-2.5}}},"y2":{"datum":1}}},
 {"data":{"values":[{"x":0,"n":227},{"x":20,"n":2.3}]},"mark":{"type":"line","color":"#111","strokeWidth":1},
  "encoding":{"x":{"field":"x","type":"quantitative","axis":{"orient":"top","values":[5,10,15],"title":null,"tickSize":-4}},
   "y":{"field":"n","type":"quantitative","axis":{"orient":"right","values":[2,3,4,5,6,7,8,9,10,20,30,40,50,60,70,80,90,100,200,300,400,500,600,700,800,900,1000,2000,3000,4000,5000,6000,7000,8000,9000],"title":null,"tickSize":{"condition":{"test":"datum.value===10||datum.value===100||datum.value===1000","value":-5},"value":-2.5}}}}},
 {"data":{"values":[{"x":0,"n":10000},{"x":5.88,"n":2830},{"x":11.7,"n":836},{"x":14.6,"n":389},{"x":16.6,"n":246},{"x":18.5,"n":140},{"x":20,"n":92}]},"mark":{"type":"line","color":"#111","strokeWidth":4.5},"encoding":{"x":{"field":"x","type":"quantitative","axis":null},"y":{"field":"n","type":"quantitative","axis":null}}},
 {"data":{"values":[{"x":0,"n":10000},{"x":2.97,"n":5250},{"x":5.88,"n":2830},{"x":8.79,"n":1552},{"x":11.7,"n":836},{"x":14.6,"n":389},{"x":16.07,"n":281},{"x":17.53,"n":173},{"x":18.98,"n":115},{"x":20,"n":88}]},"mark":{"type":"line","color":"#dc7484","strokeWidth":4},"encoding":{"x":{"field":"x","type":"quantitative","axis":null},"y":{"field":"n","type":"quantitative","axis":null}}},
 {"data":{"values":[{}]},"mark":{"type":"text","text":["Unbound","GR-MFD"],"lineHeight":19,"font":"Liberation Serif","fontStyle":"italic","fontSize":16,"color":"#111","align":"right","baseline":"alphabetic"},"encoding":{"x":{"datum":19.52,"axis":null},"y":{"datum":2612,"axis":null}}},
 {"data":{"values":[{}]},"mark":{"type":"text","text":"Counts","font":"Liberation Sans","fontWeight":"bold","fontSize":14.5,"color":"#444","align":"center","baseline":"alphabetic","angle":270},"encoding":{"x":{"datum":-0.52,"axis":null},"y":{"datum":75,"axis":null}}},
 {"data":{"values":[{}]},"mark":{"type":"text","text":"M","font":"Liberation Sans","fontWeight":"bold","fontSize":19,"color":"#555","align":"center","baseline":"alphabetic"},"encoding":{"x":{"datum":9.9,"axis":null},"y":{"datum":0.201,"axis":null}}},
 {"data":{"values":[{}]},"mark":{"type":"rect","color":"#000"},"encoding":{"x":{"datum":3.4,"axis":null},"x2":{"datum":4.14},"y":{"datum":10000,"axis":null},"y2":{"datum":19190}}},
 {"data":{"values":[{}]},"mark":{"type":"point","shape":"M-0.346,-1L0.346,-1L0.346,-0.054L0.704,-0.054L0.1265,1L-0.1265,1L-0.704,-0.054L-0.346,-0.054Z","size":676,"filled":true,"color":"#000","opacity":1},"encoding":{"x":{"datum":3.77,"axis":null},"y":{"datum":0.3466,"axis":null}}}
]},
{"width":19,"height":0,"view":{"stroke":null},"data":{"values":[{}]},"mark":{"type":"point","opacity":0},"encoding":{}},
{"width":228,"height":113,"resolve":{"axis":{"x":"independent","y":"independent"}},"layer":[
 {"data":{"values":[{"b0":0,"b1":1,"n":209},{"b0":1,"b1":2,"n":173},{"b0":2,"b1":3,"n":140},{"b0":3,"b1":4,"n":112},{"b0":4,"b1":5,"n":93},{"b0":5,"b1":6,"n":75},{"b0":6,"b1":7,"n":60},{"b0":7,"b1":8,"n":46},{"b0":8,"b1":9,"n":31},{"b0":9,"b1":10,"n":25},{"b0":10,"b1":11,"n":20},{"b0":11,"b1":12,"n":16},{"b0":12,"b1":13,"n":14},{"b0":13,"b1":14,"n":12},{"b0":14,"b1":15,"n":8.1},{"b0":15,"b1":16,"n":6.5},{"b0":16,"b1":17,"n":5.4},{"b0":17,"b1":18,"n":4.0},{"b0":18,"b1":19,"n":3.4},{"b0":19,"b1":20,"n":2.1}]},
  "mark":{"type":"rect","fill":"#d94b4b","stroke":"#5a1212","strokeWidth":0.8},
  "encoding":{"x":{"field":"b0","type":"quantitative","scale":{"domain":[0,20],"nice":false,"zero":false},"axis":{"orient":"bottom","values":[5,10,15],"title":null,"tickSize":-4}},"x2":{"field":"b1"},
   "y":{"field":"n","type":"quantitative","scale":{"type":"log","domain":[1,10000],"nice":false},"axis":{"orient":"left","values":[2,3,4,5,6,7,8,9,10,20,30,40,50,60,70,80,90,100,200,300,400,500,600,700,800,900,1000,2000,3000,4000,5000,6000,7000,8000,9000],"title":null,"tickSize":{"condition":{"test":"datum.value===10||datum.value===100||datum.value===1000","value":-5},"value":-2.5}}},"y2":{"datum":1}}},
 {"data":{"values":[{"x":0,"n":227},{"x":20,"n":1.8}]},"mark":{"type":"line","color":"#111","strokeWidth":1},
  "encoding":{"x":{"field":"x","type":"quantitative","axis":{"orient":"top","values":[5,10,15],"title":null,"tickSize":-4}},
   "y":{"field":"n","type":"quantitative","axis":{"orient":"right","values":[2,3,4,5,6,7,8,9,10,20,30,40,50,60,70,80,90,100,200,300,400,500,600,700,800,900,1000,2000,3000,4000,5000,6000,7000,8000,9000],"title":null,"tickSize":{"condition":{"test":"datum.value===10||datum.value===100||datum.value===1000","value":-5},"value":-2.5}}}}},
 {"data":{"values":[{"x":0,"n":10000},{"x":6.26,"n":2400},{"x":13.2,"n":537},{"x":16.67,"n":239},{"x":18.5,"n":140},{"x":20,"n":81}]},"mark":{"type":"line","color":"#111","strokeWidth":4.5},"encoding":{"x":{"field":"x","type":"quantitative","axis":null},"y":{"field":"n","type":"quantitative","axis":null}}},
 {"data":{"values":[{"x":0,"n":10000},{"x":6.26,"n":2400},{"x":13.2,"n":537},{"x":16.67,"n":239},{"x":18.5,"n":138},{"x":20,"n":78}]},"mark":{"type":"line","color":"#7b1d1d","strokeWidth":2.2},"encoding":{"x":{"field":"x","type":"quantitative","axis":null},"y":{"field":"n","type":"quantitative","axis":null}}},
 {"data":{"values":[{}]},"mark":{"type":"text","text":"ΔM","font":"Liberation Sans","fontWeight":"bold","fontSize":20,"color":"#555","align":"right","baseline":"alphabetic"},"encoding":{"x":{"datum":10.35,"axis":null},"y":{"datum":0.201,"axis":null}}},
 {"data":{"values":[{}]},"mark":{"type":"text","text":"LRG","font":"Liberation Sans","fontWeight":"bold","fontSize":11.5,"color":"#555","align":"left","baseline":"alphabetic"},"encoding":{"x":{"datum":10.35,"axis":null},"y":{"datum":0.186,"axis":null}}},
 {"data":{"values":[{}]},"mark":{"type":"rect","color":"#000"},"encoding":{"x":{"datum":16.21,"axis":null},"x2":{"datum":16.95},"y":{"datum":10000,"axis":null},"y2":{"datum":19190}}},
 {"data":{"values":[{}]},"mark":{"type":"point","shape":"M-0.346,-1L0.346,-1L0.346,-0.054L0.704,-0.054L0.1265,1L-0.1265,1L-0.704,-0.054L-0.346,-0.054Z","size":676,"filled":true,"color":"#000","opacity":1},"encoding":{"x":{"datum":16.5,"axis":null},"y":{"datum":0.3466,"axis":null}}}
]},
{"width":128,"height":0,"view":{"stroke":null},"data":{"values":[{}]},"mark":{"type":"point","opacity":0},"encoding":{}},
{"width":228,"height":113,"resolve":{"axis":{"x":"independent","y":"independent"}},"layer":[
 {"data":{"values":[{"b0":0,"b1":1,"n":209},{"b0":1,"b1":2,"n":173},{"b0":2,"b1":3,"n":140},{"b0":3,"b1":4,"n":112},{"b0":4,"b1":5,"n":87.5},{"b0":5,"b1":6,"n":70.6},{"b0":6,"b1":7,"n":57},{"b0":7,"b1":8,"n":45.7},{"b0":8,"b1":9,"n":46.9},{"b0":9,"b1":10,"n":29.8},{"b0":10,"b1":11,"n":23.8},{"b0":11,"b1":12,"n":19.2},{"b0":12,"b1":13,"n":14.6},{"b0":13,"b1":14,"n":13.2},{"b0":14,"b1":15,"n":9.0},{"b0":15,"b1":16,"n":6.9},{"b0":16,"b1":17,"n":5.8},{"b0":17,"b1":18,"n":4.3},{"b0":18,"b1":19,"n":3.6},{"b0":19,"b1":20,"n":2.2}]},
  "mark":{"type":"rect","fill":"#fdd6da","stroke":"#9b3b48","strokeWidth":0.8},
  "encoding":{"x":{"field":"b0","type":"quantitative","scale":{"domain":[0,20],"nice":false,"zero":false},"axis":{"orient":"bottom","values":[5,10,15],"title":null,"tickSize":-4}},"x2":{"field":"b1"},
   "y":{"field":"n","type":"quantitative","scale":{"type":"log","domain":[1,10000],"nice":false},"axis":{"orient":"left","values":[2,3,4,5,6,7,8,9,10,20,30,40,50,60,70,80,90,100,200,300,400,500,600,700,800,900,1000,2000,3000,4000,5000,6000,7000,8000,9000],"title":null,"tickSize":{"condition":{"test":"datum.value===10||datum.value===100||datum.value===1000","value":-5},"value":-2.5}}},"y2":{"datum":1}}},
 {"data":{"values":[{"x":0,"n":238},{"x":20,"n":2.6}]},"mark":{"type":"line","color":"#111","strokeWidth":1},
  "encoding":{"x":{"field":"x","type":"quantitative","axis":{"orient":"top","values":[5,10,15],"title":null,"tickSize":-4}},
   "y":{"field":"n","type":"quantitative","axis":{"orient":"right","values":[2,3,4,5,6,7,8,9,10,20,30,40,50,60,70,80,90,100,200,300,400,500,600,700,800,900,1000,2000,3000,4000,5000,6000,7000,8000,9000],"title":null,"tickSize":{"condition":{"test":"datum.value===10||datum.value===100||datum.value===1000","value":-5},"value":-2.5}}}}},
 {"data":{"values":[{"x":0,"n":10000},{"x":7.1,"n":2400},{"x":13.7,"n":473},{"x":16.4,"n":190},{"x":17.0,"n":150},{"x":18.0,"n":80},{"x":19.07,"n":33}]},"mark":{"type":"line","color":"#111","strokeWidth":4.5},"encoding":{"x":{"field":"x","type":"quantitative","axis":null},"y":{"field":"n","type":"quantitative","axis":null}}},
 {"data":{"values":[{"x":0,"n":10000},{"x":3.79,"n":4730},{"x":7.1,"n":2400},{"x":10.4,"n":1216},{"x":13.7,"n":473},{"x":16.4,"n":182},{"x":18.0,"n":70},{"x":19.0,"n":29.7},{"x":19.5,"n":10.6},{"x":19.85,"n":3.6},{"x":20,"n":1.06}]},"mark":{"type":"line","color":"#d46f7e","strokeWidth":4},"encoding":{"x":{"field":"x","type":"quantitative","axis":null},"y":{"field":"n","type":"quantitative","axis":null}}},
 {"data":{"values":[{}]},"mark":{"type":"text","text":["Bound","GR-MFD"],"lineHeight":19,"font":"Liberation Serif","fontStyle":"italic","fontSize":16,"color":"#111","align":"right","baseline":"alphabetic"},"encoding":{"x":{"datum":19.41,"axis":null},"y":{"datum":3334,"axis":null}}},
 {"data":{"values":[{}]},"mark":{"type":"text","text":"Counts","font":"Liberation Sans","fontWeight":"bold","fontSize":14.5,"color":"#444","align":"center","baseline":"alphabetic","angle":270},"encoding":{"x":{"datum":-0.53,"axis":null},"y":{"datum":81,"axis":null}}},
 {"data":{"values":[{}]},"mark":{"type":"text","text":"M","font":"Liberation Sans","fontWeight":"bold","fontSize":19,"color":"#555","align":"center","baseline":"alphabetic"},"encoding":{"x":{"datum":9.9,"axis":null},"y":{"datum":0.201,"axis":null}}},
 {"data":{"values":[{}]},"mark":{"type":"rect","color":"#000"},"encoding":{"x":{"datum":3.38,"axis":null},"x2":{"datum":4.12},"y":{"datum":10000,"axis":null},"y2":{"datum":19190}}},
 {"data":{"values":[{}]},"mark":{"type":"point","shape":"M-0.346,-1L0.346,-1L0.346,-0.054L0.704,-0.054L0.1265,1L-0.1265,1L-0.704,-0.054L-0.346,-0.054Z","size":676,"filled":true,"color":"#000","opacity":1},"encoding":{"x":{"datum":3.75,"axis":null},"y":{"datum":0.3466,"axis":null}}},
 {"data":{"values":[{}]},"mark":{"type":"rule","color":"#666","strokeWidth":3,"strokeDash":[5,2.5]},"encoding":{"x":{"datum":-5.53,"axis":null},"y":{"datum":15040,"axis":null},"y2":{"datum":0.166}}}
]},
{"width":20,"height":0,"view":{"stroke":null},"data":{"values":[{}]},"mark":{"type":"point","opacity":0},"encoding":{}},
{"width":229,"height":113,"resolve":{"axis":{"x":"independent","y":"independent"}},"layer":[
 {"data":{"values":[{"b0":0,"b1":1,"n":525},{"b0":1,"b1":2,"n":151},{"b0":2,"b1":3,"n":90},{"b0":3,"b1":4,"n":69},{"b0":4,"b1":5,"n":48},{"b0":5,"b1":6,"n":35},{"b0":6,"b1":7,"n":22.6},{"b0":7,"b1":8,"n":18.7},{"b0":8,"b1":9,"n":13.2},{"b0":9,"b1":10,"n":10.8},{"b0":10,"b1":11,"n":6.3},{"b0":11,"b1":12,"n":5.1},{"b0":12,"b1":13,"n":2.8},{"b0":13,"b1":14,"n":3.2},{"b0":14,"b1":15,"n":1.63},{"b0":16,"b1":17,"n":1.31}]},
  "mark":{"type":"rect","fill":"#d94b4b","stroke":"#5a1212","strokeWidth":0.8},
  "encoding":{"x":{"field":"b0","type":"quantitative","scale":{"domain":[0,20],"nice":false,"zero":false},"axis":{"orient":"bottom","values":[5,10,15],"title":null,"tickSize":-4}},"x2":{"field":"b1"},
   "y":{"field":"n","type":"quantitative","scale":{"type":"log","domain":[1,10000],"nice":false},"axis":{"orient":"left","values":[2,3,4,5,6,7,8,9,10,20,30,40,50,60,70,80,90,100,200,300,400,500,600,700,800,900,1000,2000,3000,4000,5000,6000,7000,8000,9000],"title":null,"tickSize":{"condition":{"test":"datum.value===10||datum.value===100||datum.value===1000","value":-5},"value":-2.5}}},"y2":{"datum":1}}},
 {"data":{"values":[{"x":0,"n":227},{"x":20,"n":2.65}]},"mark":{"type":"line","color":"#111","strokeWidth":1},
  "encoding":{"x":{"field":"x","type":"quantitative","axis":{"orient":"top","values":[5,10,15],"title":null,"tickSize":-4}},
   "y":{"field":"n","type":"quantitative","axis":{"orient":"right","values":[2,3,4,5,6,7,8,9,10,20,30,40,50,60,70,80,90,100,200,300,400,500,600,700,800,900,1000,2000,3000,4000,5000,6000,7000,8000,9000],"title":null,"tickSize":{"condition":{"test":"datum.value===10||datum.value===100||datum.value===1000","value":-5},"value":-2.5}}}}},
 {"data":{"values":[{"x":0,"n":10000},{"x":4.25,"n":2830},{"x":10.07,"n":635},{"x":14.44,"n":187},{"x":17.35,"n":63},{"x":18.8,"n":28}]},"mark":{"type":"line","color":"#111","strokeWidth":4.5},"encoding":{"x":{"field":"x","type":"quantitative","axis":null},"y":{"field":"n","type":"quantitative","axis":null}}},
 {"data":{"values":[{"x":0,"n":10000},{"x":0.47,"n":7280},{"x":1.34,"n":5250},{"x":4.25,"n":1644},{"x":7.16,"n":485},{"x":10.07,"n":164},{"x":12.99,"n":42},{"x":15.9,"n":14.3},{"x":17.64,"n":6.3},{"x":18.5,"n":2.8},{"x":18.8,"n":1.0}]},"mark":{"type":"line","color":"#a53a3a","strokeWidth":4},"encoding":{"x":{"field":"x","type":"quantitative","axis":null},"y":{"field":"n","type":"quantitative","axis":null}}},
 {"data":{"values":[{}]},"mark":{"type":"text","text":"ΔM","font":"Liberation Sans","fontWeight":"bold","fontSize":20,"color":"#555","align":"right","baseline":"alphabetic"},"encoding":{"x":{"datum":10.22,"axis":null},"y":{"datum":0.201,"axis":null}}},
 {"data":{"values":[{}]},"mark":{"type":"text","text":"LRG","font":"Liberation Sans","fontWeight":"bold","fontSize":11.5,"color":"#555","align":"left","baseline":"alphabetic"},"encoding":{"x":{"datum":10.22,"axis":null},"y":{"datum":0.186,"axis":null}}},
 {"data":{"values":[{}]},"mark":{"type":"rect","color":"#000"},"encoding":{"x":{"datum":15.96,"axis":null},"x2":{"datum":16.7},"y":{"datum":10000,"axis":null},"y2":{"datum":19190}}},
 {"data":{"values":[{}]},"mark":{"type":"point","shape":"M-0.346,-1L0.346,-1L0.346,-0.054L0.704,-0.054L0.1265,1L-0.1265,1L-0.704,-0.054L-0.346,-0.054Z","size":676,"filled":true,"color":"#000","opacity":1},"encoding":{"x":{"datum":16.24,"axis":null},"y":{"datum":0.3466,"axis":null}}}
]}
],"spacing":0,"bounds":"flush"},
{"hconcat":[
{"width":575,"height":188.5,"resolve":{"axis":{"x":"independent","y":"independent"}},"layer":[
 {"data":{"name":"ewL"},
  "mark":{"type":"rect","fill":"#3260a9","stroke":"#ffffff","strokeOpacity":0.22,"strokeWidth":0.8},
  "encoding":{"x":{"field":"t0","type":"quantitative","scale":{"domain":[0,105],"nice":false,"zero":false},"axis":{"orient":"top","values":[10.5,21,31.5,42,52.5,63,73.5,84,94.5],"title":null}},"x2":{"field":"t1"},
   "y":{"field":"w","type":"quantitative","scale":{"domain":[0,1],"nice":false,"zero":false},"axis":{"orient":"left","values":[0.2,0.4,0.6,0.8],"title":null}},"y2":{"datum":0}}},
 {"data":{"name":"ewL"},
  "mark":{"type":"rect","fill":"#f4aff8"},
  "encoding":{"x":{"field":"t0","type":"quantitative","axis":{"orient":"bottom","values":[10.5,21,31.5,42,52.5,63,73.5,84,94.5],"title":null}},"x2":{"field":"t1"},
   "y":{"field":"w","type":"quantitative","axis":{"orient":"right","values":[0.2,0.4,0.6,0.8],"title":null}},"y2":{"datum":1}}},
 {"data":{"values":[{}]},"mark":{"type":"point","shape":"M-1.09,-1L1.09,-1L0,1Z","size":9,"filled":true,"color":"#000","opacity":1},"encoding":{"x":{"datum":15.74,"axis":null},"y":{"datum":1.01857,"axis":null}}},
 {"data":{"values":[{}]},"mark":{"type":"point","shape":"M-1.09,-1L1.09,-1L0,1Z","size":9,"filled":true,"color":"#000","opacity":1},"encoding":{"x":{"datum":87.49,"axis":null},"y":{"datum":1.01857,"axis":null}}},
 {"data":{"values":[{}]},"mark":{"type":"rule","color":"#ffffff","strokeWidth":1,"opacity":0.75},"encoding":{"x":{"datum":1.9,"axis":null},"x2":{"datum":105},"y":{"datum":0.5,"axis":null}}},
 {"data":{"values":[{}]},"mark":{"type":"text","text":["Unbound","Hypothesis"],"lineHeight":15,"font":"Liberation Serif","fontWeight":"bold","fontSize":12.5,"color":"#a60fbd","align":"left","baseline":"alphabetic"},"encoding":{"x":{"datum":2.74,"axis":null},"y":{"datum":0.903,"axis":null}}},
 {"data":{"values":[{}]},"mark":{"type":"text","text":["Bound","Hypothesis"],"lineHeight":15,"font":"Liberation Serif","fontWeight":"bold","fontSize":12.5,"color":"#b3a6f7","align":"left","baseline":"alphabetic"},"encoding":{"x":{"datum":2.74,"axis":null},"y":{"datum":0.151,"axis":null}}},
 {"data":{"values":[{}]},"mark":{"type":"text","text":"Time","font":"Liberation Sans","fontSize":26,"fill":"#ffffff","stroke":"#555","strokeWidth":0.8,"align":"center","baseline":"alphabetic"},"encoding":{"x":{"datum":52.4,"axis":null},"y":{"datum":0.0875,"axis":null}}},
 {"data":{"values":[{}]},"mark":{"type":"text","text":["Strong Evidence for","Unbound Model"],"lineHeight":20,"font":"Liberation Sans","fontStyle":"italic","fontSize":17.5,"fill":"#ffffff","stroke":"#777","strokeWidth":0.7,"align":"center","baseline":"middle","angle":270},"encoding":{"x":{"datum":98.3,"axis":null},"y":{"datum":0.496,"axis":null}}},
 {"data":{"values":[{}]},"mark":{"type":"text","text":"EW-test Weights","font":"Liberation Sans","fontWeight":"bold","fontSize":15,"color":"#444","align":"center","baseline":"bottom","angle":270},"encoding":{"x":{"datum":-1.46,"axis":null},"y":{"datum":0.496,"axis":null}}}
]},
{"width":572,"height":188.5,"resolve":{"axis":{"x":"independent","y":"independent"}},"layer":[
 {"data":{"name":"ewR"},
  "mark":{"type":"rect","fill":"#3260a9","stroke":"#ffffff","strokeOpacity":0.22,"strokeWidth":0.8},
  "encoding":{"x":{"field":"t0","type":"quantitative","scale":{"domain":[0,105],"nice":false,"zero":false},"axis":{"orient":"top","values":[10.5,21,31.5,42,52.5,63,73.5,84,94.5],"title":null}},"x2":{"field":"t1"},
   "y":{"field":"w","type":"quantitative","scale":{"domain":[0,1],"nice":false,"zero":false},"axis":{"orient":"left","values":[0.2,0.4,0.6,0.8],"title":null}},"y2":{"datum":0}}},
 {"data":{"name":"ewR"},
  "mark":{"type":"rect","fill":"#f4aff8"},
  "encoding":{"x":{"field":"t0","type":"quantitative","axis":{"orient":"bottom","values":[10.5,21,31.5,42,52.5,63,73.5,84,94.5],"title":null}},"x2":{"field":"t1"},
   "y":{"field":"w","type":"quantitative","axis":{"orient":"right","values":[0.2,0.4,0.6,0.8],"title":null}},"y2":{"datum":1}}},
 {"data":{"values":[{}]},"mark":{"type":"point","shape":"M-1.09,-1L1.09,-1L0,1Z","size":9,"filled":true,"color":"#000","opacity":1},"encoding":{"x":{"datum":17.76,"axis":null},"y":{"datum":1.01857,"axis":null}}},
 {"data":{"values":[{}]},"mark":{"type":"point","shape":"M-1.09,-1L1.09,-1L0,1Z","size":9,"filled":true,"color":"#000","opacity":1},"encoding":{"x":{"datum":89.56,"axis":null},"y":{"datum":1.01857,"axis":null}}},
 {"data":{"values":[{}]},"mark":{"type":"rule","color":"#ffffff","strokeWidth":1,"opacity":0.75},"encoding":{"x":{"datum":1.8,"axis":null},"x2":{"datum":105},"y":{"datum":0.5,"axis":null}}},
 {"data":{"values":[{}]},"mark":{"type":"text","text":["Unbound","Hypothesis"],"lineHeight":15,"font":"Liberation Serif","fontWeight":"bold","fontSize":12.5,"color":"#a60fbd","align":"left","baseline":"alphabetic"},"encoding":{"x":{"datum":2.94,"axis":null},"y":{"datum":0.903,"axis":null}}},
 {"data":{"values":[{}]},"mark":{"type":"text","text":["Bound","Hypothesis"],"lineHeight":15,"font":"Liberation Serif","fontWeight":"bold","fontSize":12.5,"color":"#b3a6f7","align":"left","baseline":"alphabetic"},"encoding":{"x":{"datum":2.94,"axis":null},"y":{"datum":0.151,"axis":null}}},
 {"data":{"values":[{}]},"mark":{"type":"text","text":["Strong Evidence for","Bound Model"],"lineHeight":20,"font":"Liberation Sans","fontStyle":"italic","fontSize":17.5,"fill":"#ffffff","stroke":"#777","strokeWidth":0.4,"align":"center","baseline":"middle","angle":270},"encoding":{"x":{"datum":98.15,"axis":null},"y":{"datum":0.496,"axis":null}}},
 {"data":{"values":[{}]},"mark":{"type":"rule","color":"#666","strokeWidth":3,"strokeDash":[5,2.5]},"encoding":{"x":{"datum":-1.65,"axis":null},"y":{"datum":1.0106,"axis":null},"y2":{"datum":0}}}
]}
],"spacing":18,"bounds":"flush"}
]
}
